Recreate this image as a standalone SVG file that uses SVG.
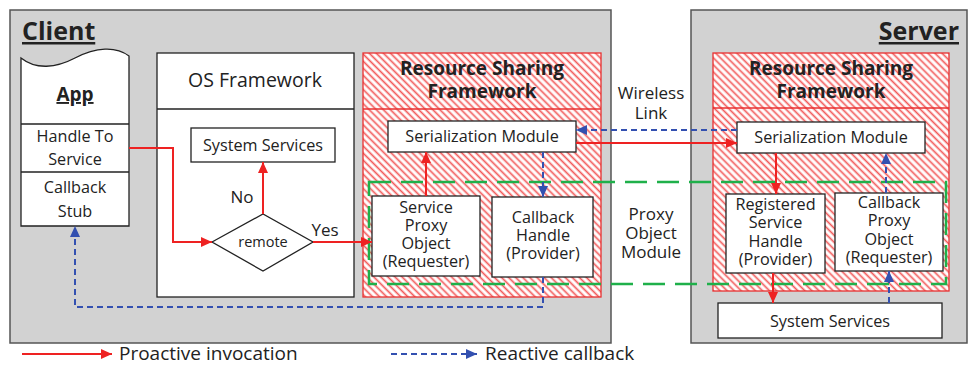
<svg xmlns="http://www.w3.org/2000/svg" width="968" height="366" viewBox="0 0 968 366">
<defs>
<pattern id="hatch" patternUnits="userSpaceOnUse" width="5" height="5" patternTransform="rotate(45)">
<rect width="5" height="5" fill="#ffffff"/>
<line x1="0" y1="1.5" x2="5" y2="1.5" stroke="#f25a5a" stroke-width="1.7"/>
</pattern>
<marker id="ar" markerUnits="userSpaceOnUse" markerWidth="12" markerHeight="10" refX="11" refY="5" orient="auto">
<path d="M0,0 L11,5 L0,10 z" fill="#ee2222"/>
</marker>
<marker id="ab" markerUnits="userSpaceOnUse" markerWidth="12" markerHeight="10" refX="11" refY="5" orient="auto">
<path d="M0,0 L11,5 L0,10 z" fill="#3350b0"/>
</marker>
</defs>
<style>
text{font-family:"Open Sans","Liberation Sans",sans-serif;fill:#222;text-anchor:middle}
.b{font-weight:bold}
.u{text-decoration:underline}
.t{font-size:16.2px}
.box{fill:#fff;stroke:#222;stroke-width:1.3}
.host{fill:#d2d2d2;stroke:#555;stroke-width:1.5}
.rsf{fill:url(#hatch);stroke:#e83030;stroke-width:1.3}
.red{fill:none;stroke:#ee2222;stroke-width:2}
.blue{fill:none;stroke:#3350b0;stroke-width:2;stroke-dasharray:6 4}
.green{fill:none;stroke:#1fb04a;stroke-width:2.5;stroke-dasharray:22 10}
</style>

<g id="client">
<rect class="host" x="10" y="10" width="601" height="333"/>
<text class="b u" x="22" y="40" style="font-size:25px;text-anchor:start">Client</text>
</g>
<g id="server">
<rect class="host" x="691" y="10" width="276" height="333"/>
<text class="b u" x="959" y="40" style="font-size:25px;text-anchor:end">Server</text>
</g>

<g id="wireless-link">
<text x="651" y="99" style="font-size:17px">Wireless<tspan x="651" dy="20">Link</tspan></text>
</g>

<g id="app">
<path class="box" d="M21,58 C36,70 56,68 75,58 C96,47 116,46 129,56 L129,226 L21,226 Z"/>
<line x1="21" y1="124" x2="129" y2="124" stroke="#222" stroke-width="1.3"/>
<line x1="21" y1="172" x2="129" y2="172" stroke="#222" stroke-width="1.3"/>
<text class="b u" x="75" y="101" style="font-size:19px">App</text>
<text class="t" x="75" y="142">Handle To<tspan x="75" dy="23">Service</tspan></text>
<text class="t" x="75" y="193">Callback<tspan x="75" dy="24">Stub</tspan></text>
</g>

<g id="os-framework">
<rect class="box" x="157" y="53" width="197" height="244"/>
<line x1="157" y1="109" x2="354" y2="109" stroke="#222" stroke-width="1.3"/>
<text x="255" y="87" style="font-size:19.5px">OS Framework</text>
</g>
<g id="client-system-services">
<rect class="box" x="191" y="128" width="144" height="34"/>
<text class="t" x="263" y="151">System Services</text>
</g>
<g id="remote">
<path class="box" d="M212,242 L263,214 L313,242 L263,271 Z"/>
<text x="263" y="247" style="font-size:14.5px">remote</text>
</g>

<g id="client-rsf">
<rect class="rsf" x="363" y="53" width="238" height="244"/>
<line x1="363" y1="109" x2="601" y2="109" stroke="#e83030" stroke-width="1.3"/>
<text class="b" x="482" y="75" style="font-size:19px">Resource Sharing<tspan x="482" dy="23">Framework</tspan></text>
</g>
<g id="server-rsf">
<rect class="rsf" x="713" y="53" width="236" height="238"/>
<line x1="713" y1="108" x2="949" y2="108" stroke="#e83030" stroke-width="1.3"/>
<text class="b" x="831" y="75" style="font-size:19px">Resource Sharing<tspan x="831" dy="23">Framework</tspan></text>
</g>

<g id="proxy-object-module">
<rect class="green" x="369" y="182" width="577" height="102"/>
<text x="651" y="220" style="font-size:17px">Proxy<tspan x="651" dy="19">Object</tspan><tspan x="651" dy="19">Module</tspan></text>
</g>

<g id="client-serialization">
<rect class="box" x="388" y="121" width="188" height="31"/>
<text class="t" x="482" y="142">Serialization Module</text>
</g>
<g id="service-proxy-object">
<rect class="box" x="372" y="196" width="108" height="80"/>
<text class="t" x="426" y="213">Service<tspan x="426" dy="18">Proxy</tspan><tspan x="426" dy="18">Object</tspan><tspan x="426" dy="18">(Requester)</tspan></text>
</g>
<g id="callback-handle">
<rect class="box" x="492" y="197" width="101" height="80"/>
<text class="t" x="543" y="223">Callback<tspan x="543" dy="18">Handle</tspan><tspan x="543" dy="18">(Provider)</tspan></text>
</g>

<g id="server-serialization">
<rect class="box" x="737" y="122" width="188" height="31"/>
<text class="t" x="831" y="143">Serialization Module</text>
</g>
<g id="registered-service-handle">
<rect class="box" x="726" y="194" width="99" height="79"/>
<text class="t" x="775.5" y="210">Registered<tspan x="775.5" dy="18.3">Service</tspan><tspan x="775.5" dy="18.3">Handle</tspan><tspan x="775.5" dy="18.3">(Provider)</tspan></text>
</g>
<g id="callback-proxy-object">
<rect class="box" x="835" y="193" width="108" height="78"/>
<text class="t" x="889" y="208">Callback<tspan x="889" dy="18.3">Proxy</tspan><tspan x="889" dy="18.3">Object</tspan><tspan x="889" dy="18.3">(Requester)</tspan></text>
</g>
<g id="server-system-services">
<rect class="box" x="718" y="303" width="224" height="35"/>
<text class="t" x="830" y="327">System Services</text>
</g>

<g id="connectors">
<path class="red" d="M129,148 H173 V242 H212" marker-end="url(#ar)"/>
<path class="red" d="M263,214 V162" marker-end="url(#ar)"/>
<path class="red" d="M313,242 H372" marker-end="url(#ar)"/>
<path class="red" d="M426,196 V152" marker-end="url(#ar)"/>
<path class="red" d="M576,143 H737" marker-end="url(#ar)"/>
<path class="blue" d="M737,130 H576" marker-end="url(#ab)"/>
<path class="blue" d="M543,152 V197" marker-end="url(#ab)"/>
<path class="blue" d="M543,277 V307 H75 V226" marker-end="url(#ab)"/>
<path class="red" d="M776,153 V194" marker-end="url(#ar)"/>
<path class="red" d="M773,273 V303" marker-end="url(#ar)"/>
<path class="blue" d="M889,303 V271" marker-end="url(#ab)"/>
<path class="blue" d="M886,193 V153" marker-end="url(#ab)"/>
<text x="242" y="203" style="font-size:17px">No</text>
<text x="325" y="236" style="font-size:17px">Yes</text>
</g>

<g id="legend">
<path class="red" d="M22,354 H112" marker-end="url(#ar)"/>
<text x="119" y="360" style="font-size:19px;text-anchor:start">Proactive invocation</text>
<path class="blue" d="M391,354 H477" marker-end="url(#ab)"/>
<text x="485" y="360" style="font-size:19px;text-anchor:start">Reactive callback</text>
</g>
</svg>
